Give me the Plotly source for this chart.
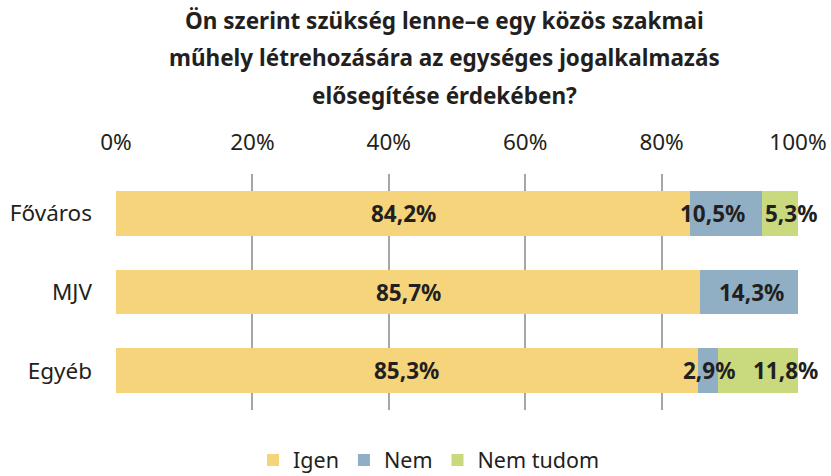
import plotly.graph_objects as go

categories = ["Főváros", "MJV", "Egyéb"]
igen = [84.2, 85.7, 85.3]
nem = [10.5, 14.3, 2.9]
nem_tudom = [5.3, 0.0, 11.8]
series_names = ["Igen", "Nem", "Nem tudom"]
colors = ["#F5D47C", "#91AFC4", "#C9D97E"]
tick_vals = [0, 20, 40, 60, 80, 100]
tick_text = ["0%", "20%", "40%", "60%", "80%", "100%"]
title_lines = ["Ön szerint szükség lenne–e egy közös szakmai",
               "műhely létrehozására az egységes jogalkalmazás",
               "elősegítése érdekében?"]
# label horizontal nudges (pixels) as in the reference
nem_shift = [-14, 2, 1]
nt_shift = [11, 0, 28]

FONT = "Noto Sans"
TXT = "#231F20"
L, R, T, B = 116, 33, 174, 66
W, H = 831, 476
PW, PH = W - L - R, H - T - B

fig = go.Figure()
for name, vals, col in zip(series_names, [igen, nem, nem_tudom], colors):
    fig.add_trace(go.Bar(y=categories, x=vals, name=name, orientation="h",
                         marker=dict(color=col, line=dict(width=0)),
                         width=0.57, hoverinfo="skip"))

def fmt(v):
    return f"{v:.1f}".replace(".", ",") + "%"

lab_font = dict(family=FONT, size=22.5, color=TXT, weight="bold")
ann = []
for i, c in enumerate(categories):
    ann.append(dict(x=igen[i] / 2, y=c, text=fmt(igen[i]), showarrow=False, font=lab_font))
    if nem[i] > 0:
        ann.append(dict(x=igen[i] + nem[i] / 2, y=c, text=fmt(nem[i]), showarrow=False,
                        xshift=nem_shift[i], font=lab_font))
    if nem_tudom[i] > 0:
        ann.append(dict(x=igen[i] + nem[i] + nem_tudom[i] / 2, y=c, text=fmt(nem_tudom[i]),
                        showarrow=False, xshift=nt_shift[i], font=lab_font))

title_y = [20, 57.5, 95]
for k, line in enumerate(title_lines):
    ann.append(dict(xref="paper", yref="paper", x=(444 - L) / PW, y=1,
                    yshift=T - title_y[k], yanchor="middle", xanchor="center",
                    text=line, showarrow=False,
                    font=dict(family=FONT, size=22.5, color=TXT, weight="bold")))

fig.update_layout(
    barmode="stack",
    width=W, height=H,
    margin=dict(l=L, r=R, t=T, b=B, autoexpand=False),
    paper_bgcolor="white", plot_bgcolor="white",
    font=dict(family=FONT, color=TXT),
    annotations=ann,
    showlegend=True,
    legend=dict(orientation="h", x=(429 - L) / PW, xanchor="center",
                y=-(460 - (H - B)) / PH, yanchor="middle",
                font=dict(family=FONT, size=21.5, color=TXT),
                traceorder="normal"),
    xaxis=dict(side="top", range=[0, 100], tickvals=tick_vals, ticktext=tick_text,
               showgrid=True, gridcolor="#A6A6A6", gridwidth=2, zeroline=False,
               showline=False, ticks="", ticklabelstandoff=19, automargin=False,
               tickfont=dict(family=FONT, size=22.5, color=TXT), fixedrange=True),
    yaxis=dict(autorange=False, range=[2.5, -0.5], automargin=False,
               showgrid=False, zeroline=False, ticks="", ticklabelstandoff=23,
               tickfont=dict(family=FONT, size=22.5, color=TXT), fixedrange=True),
)
fig.write_html("out.html")
